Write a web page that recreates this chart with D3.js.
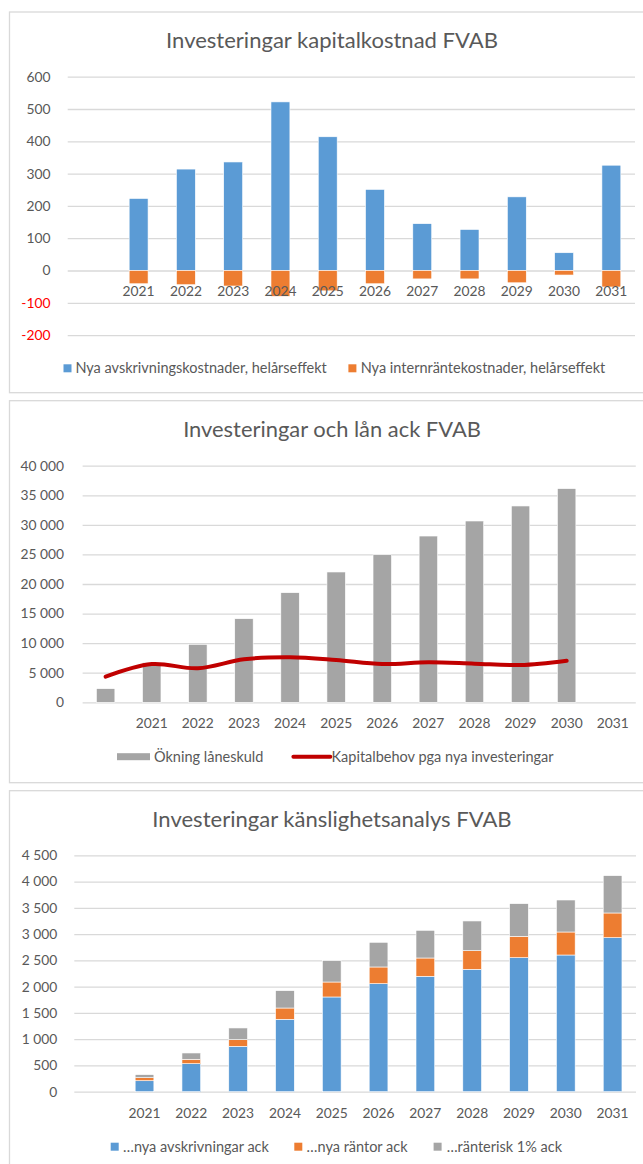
<!DOCTYPE html>
<html><head><meta charset="utf-8">
<script src="https://cdn.jsdelivr.net/npm/d3@7"></script>
<style>body{margin:0;background:#fff}</style>
</head><body><svg id="c" width="643" height="1164"></svg>
<script>
// ---------- data ----------
const years = ["", "2021", "2022", "2023", "2024", "2025", "2026", "2027", "2028", "2029", "2030", "2031"];

// Chart 1: Investeringar kapitalkostnad FVAB
const avskrivningskostnader = [null, 223, 314, 336, 522, 414, 251, 145, 127, 228, 55, 326];
const internrantekostnader  = [null, -41, -44, -48, -80, -63, -41, -26, -26, -38, -14, -51];
const ticks1 = [-200, -100, 0, 100, 200, 300, 400, 500, 600];

// Chart 2: Investeringar och lån ack FVAB
const okningLaneskuld = [2300, 6700, 9800, 14130, 18530, 22030, 24950, 28110, 30650, 33190, 36120, null];
const kapitalbehov    = [4330, 6470, 5750, 7270, 7610, 7150, 6470, 6760, 6530, 6300, 7030, null];
const ticks2 = [0, 5000, 10000, 15000, 20000, 25000, 30000, 35000, 40000];

// Chart 3: Investeringar känslighetsanalys FVAB
const nyaAvskrivningarAck = [null, 209, 533, 864, 1378, 1803, 2056, 2197, 2330, 2551, 2602, 2932];
const nyaRantorAck        = [null, 58, 84, 126, 215, 285, 318, 348, 354, 407, 438, 470];
const ranteriskAck        = [null, 57, 120, 223, 330, 406, 470, 527, 566, 621, 609, 710];
const ticks3 = [0, 500, 1000, 1500, 2000, 2500, 3000, 3500, 4000, 4500];

const titles = ["Investeringar kapitalkostnad FVAB", "Investeringar och lån ack FVAB", "Investeringar känslighetsanalys FVAB"];
const legend1 = ["Nya avskrivningskostnader, helårseffekt", "Nya internräntekostnader, helårseffekt"];
const legend2 = ["Ökning låneskuld", "Kapitalbehov pga nya investeringar"];
const legend3 = ["\u2026nya avskrivningar ack", "\u2026nya räntor ack", "\u2026ränterisk 1% ack"];

// ---------- style ----------
const FONT = "Lato, 'Open Sans', sans-serif";
const TXT = "#595959";
const GRID = "#d9d9d9";
const BLUE = "#5b9bd5", ORANGE = "#ed7d31", GRAY = "#a5a5a5", RED = "#c00000";
const loc = d3.formatLocale({decimal: ",", thousands: "\u00a0", grouping: [3], currency: ["", " kr"], minus: "-"});
const fmt = loc.format(",d");
const svg = d3.select("#c").attr("font-family", FONT);
svg.append("rect").attr("width", 643).attr("height", 1164).attr("fill", "#fff");

function panel(y0, y1) {
  svg.append("rect").attr("x", 9.5).attr("y", y0).attr("width", 700).attr("height", y1 - y0)
    .attr("fill", "#fff").attr("stroke", GRID).attr("stroke-width", 1.3);
}
function title(text, cx, y, w) {
  const t = svg.append("text").attr("x", cx).attr("y", y).attr("text-anchor", "middle")
    .attr("fill", TXT).attr("font-size", 21).text(text);
  const l = t.node().getComputedTextLength();
  t.attr("font-size", 21 * w / l);
}
function yAxis(y, x0, x1, ticks, pad) {
  const g = svg.append("g").attr("transform", `translate(${x0},0)`)
    .call(d3.axisLeft(y).tickValues(ticks).tickSize(-(x1 - x0)).tickPadding(pad).tickFormat(fmt));
  g.select(".domain").remove();
  g.selectAll(".tick line").attr("stroke", GRID).attr("stroke-width", 1.3);
  g.selectAll(".tick text").attr("fill", TXT).attr("font-size", 13.8).attr("font-family", FONT);
  return g;
}
function xLabels(x, yBase) {
  const g = svg.append("g");
  g.selectAll("text").data(years.filter(d => d !== "")).join("text")
    .attr("x", d => x(d) + x.bandwidth() / 2).attr("y", yBase).attr("text-anchor", "middle")
    .attr("fill", TXT).attr("font-size", 13.8).text(d => d);
}
function legendText(x, y, text) {
  svg.append("text").attr("x", x).attr("y", y).attr("dy", "0.35em").attr("fill", TXT)
    .attr("font-size", 14.5).text(text);
}
function legendSquare(x, y, color) {
  svg.append("rect").attr("x", x).attr("y", y - 4).attr("width", 8).attr("height", 8).attr("fill", color);
}

// ---------- Chart 1 ----------
panel(12, 392.7);
title(titles[0], 332, 48.3, 332);
{
  const x = d3.scaleBand().domain(years).range([67.7, 635]).paddingInner(0.6).paddingOuter(0.3);
  const y = d3.scaleLinear().domain([-200, 600]).range([335.1, 76.7]);
  const g = yAxis(y, 67.7, 635, ticks1, 17.3);
  g.selectAll(".tick text").attr("fill", d => d < 0 ? "#ff0000" : TXT);
  const rows = years.map((c, i) => ({c, a: avskrivningskostnader[i], r: internrantekostnader[i]}));
  svg.append("g").selectAll("rect").data(rows.filter(d => d.a != null)).join("rect")
    .attr("x", d => x(d.c)).attr("width", x.bandwidth())
    .attr("y", d => y(d.a)).attr("height", d => y(0) - y(d.a)).attr("fill", BLUE)
    .attr("stroke", "#fff").attr("stroke-width", 0.6);
  svg.append("g").selectAll("rect").data(rows.filter(d => d.r != null)).join("rect")
    .attr("x", d => x(d.c)).attr("width", x.bandwidth())
    .attr("y", y(0)).attr("height", d => y(d.r) - y(0)).attr("fill", ORANGE)
    .attr("stroke", "#fff").attr("stroke-width", 0.6);
  xLabels(x, y(0) + 25.6);
  legendSquare(63.5, 368.3, BLUE);
  legendText(75.4, 368.3, legend1[0]);
  legendSquare(348.4, 368.3, ORANGE);
  legendText(360.7, 368.3, legend1[1]);
}

// ---------- Chart 2 ----------
panel(400.7, 782.7);
title(titles[1], 332, 436.7, 298);
{
  const x = d3.scaleBand().domain(years).range([82.6, 635.8]).paddingInner(0.6).paddingOuter(0.3);
  const y = d3.scaleLinear().domain([0, 40000]).range([702.3, 465.7]);
  yAxis(y, 82.6, 635.8, ticks2, 18.6);
  const rows = years.map((c, i) => ({c, v: okningLaneskuld[i], k: kapitalbehov[i]}));
  svg.append("g").selectAll("rect").data(rows.filter(d => d.v != null)).join("rect")
    .attr("x", d => x(d.c)).attr("width", x.bandwidth())
    .attr("y", d => y(d.v)).attr("height", d => y(0) - y(d.v)).attr("fill", GRAY)
    .attr("stroke", "#fff").attr("stroke-width", 0.6);
  const line = d3.line().x(d => x(d.c) + x.bandwidth() / 2).y(d => y(d.k)).curve(d3.curveCatmullRom.alpha(0.5));
  svg.append("path").datum(rows.filter(d => d.k != null)).attr("d", line)
    .attr("fill", "none").attr("stroke", RED).attr("stroke-width", 4).attr("stroke-linecap", "round");
  xLabels(x, y(0) + 25.7);
  svg.append("rect").attr("x", 117).attr("y", 756.7 - 3.5).attr("width", 33).attr("height", 7).attr("fill", GRAY);
  legendText(154, 756.7, legend2[0]);
  svg.append("line").attr("x1", 293.4).attr("x2", 330.3).attr("y1", 756.7).attr("y2", 756.7)
    .attr("stroke", RED).attr("stroke-width", 4).attr("stroke-linecap", "round");
  legendText(331.5, 756.7, legend2[1]);
}

// ---------- Chart 3 ----------
panel(790.7, 1200);
title(titles[2], 332, 826.7, 359.5);
{
  const x = d3.scaleBand().domain(years).range([74.3, 636]).paddingInner(0.6).paddingOuter(0.3);
  const y = d3.scaleLinear().domain([0, 4500]).range([1091.7, 855.3]);
  yAxis(y, 74.3, 636, ticks3, 17);
  const keys = ["a", "r", "k"];
  const colors = {a: BLUE, r: ORANGE, k: GRAY};
  const rows = years.map((c, i) => ({c, a: nyaAvskrivningarAck[i] || 0, r: nyaRantorAck[i] || 0, k: ranteriskAck[i] || 0}))
    .filter(d => d.c !== "");
  const stack = d3.stack().keys(keys)(rows);
  svg.append("g").selectAll("g").data(stack).join("g").attr("fill", s => colors[s.key])
    .selectAll("rect").data(s => s).join("rect")
    .attr("x", d => x(d.data.c)).attr("width", x.bandwidth())
    .attr("y", d => y(d[1])).attr("height", d => y(d[0]) - y(d[1]))
    .attr("stroke", "#fff").attr("stroke-width", 0.6);
  xLabels(x, y(0) + 26.3);
  legendSquare(110.7, 1146.7, BLUE);
  legendText(123, 1146.7, legend3[0]);
  legendSquare(294.3, 1146.7, ORANGE);
  legendText(306.6, 1146.7, legend3[1]);
  legendSquare(433.6, 1146.7, GRAY);
  legendText(446.7, 1146.7, legend3[2]);
}
</script></body></html>
